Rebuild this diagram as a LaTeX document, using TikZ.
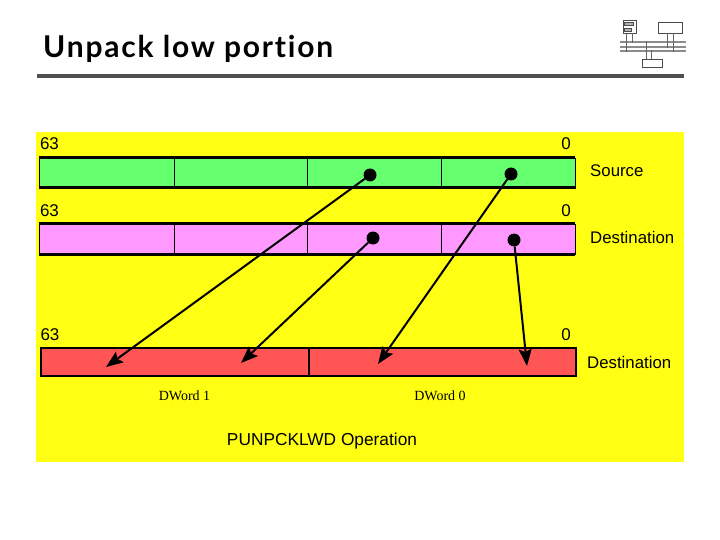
\documentclass[tikz,border=0pt]{standalone}
\usepackage{fontspec}
\setmainfont{Liberation Sans}
\newfontfamily\titlefont[LetterSpace=6,Ligatures=NoCommon]{Lato Bold}
\newfontfamily\wordfont{Liberation Serif}
\usetikzlibrary{arrows.meta,positioning}
\definecolor{paneyellow}{HTML}{FFFF14}
\definecolor{srcgreen}{HTML}{66FF6E}
\definecolor{dstpink}{HTML}{FF99FF}
\definecolor{resred}{HTML}{FF5555}
\definecolor{rulegray}{HTML}{505050}
\begin{document}
\begin{tikzpicture}[x=1pt,y=-1pt,
  cell/.style={minimum height=30pt,outer sep=0pt,inner sep=0pt,draw,line width=.9pt,rectangle,node distance=0pt},
  rowrule/.style={line width=3pt},
  rescell/.style={minimum height=28pt,outer sep=0pt,inner sep=0pt,draw,line width=1.6pt,fill=resred,rectangle,node distance=0pt},
  dot/.style={circle,fill=black,minimum size=13pt,inner sep=0pt,outer sep=0pt},
  move/.style={-{Stealth[length=17pt,width=13pt,inset=3pt]},line width=2pt},
  num/.style={font=\fontsize{17}{17}\selectfont,inner sep=0pt},
  tag/.style={font=\fontsize{16.8}{17}\selectfont,inner sep=0pt,anchor=west},
  word/.style={font=\wordfont\fontsize{14}{14}\selectfont,inner sep=0pt},
  mini/.style={draw=black!70,line width=.5pt,inner sep=0pt,outer sep=0pt,fill=white},
  bus/.style={mini,fill=black!45,draw=black!45,minimum width=65pt,minimum height=1.5pt}]
\useasboundingbox (0,0) rectangle (720,540);

% title
\node[font=\titlefont\fontsize{30}{30}\selectfont,anchor=base west,inner sep=0pt] (title) at (43,58) {Unpack low portion};
\coordinate (ruleL) at (37,76);
\coordinate (ruleR) at (684,76);
\draw[rulegray,line width=3.5pt] (ruleL) -- (ruleR);

% small system picture
\node[mini,minimum width=13pt,minimum height=13pt] (cpu) at (629.5,27) {};
\node[mini,fill=black!30,minimum width=9pt,minimum height=3pt] (cpuA) at (629,24) {};
\node[mini,fill=black!30,minimum width=7pt,minimum height=3pt] (cpuB) at (627.5,30) {};
\node[mini,minimum width=24pt,minimum height=11pt] (mem) at (670,27.5) {};
\node[bus] (busA) at (652.5,42) {};
\node[bus] (busB) at (652.5,47) {};
\node[bus] (busC) at (652.5,51) {};
\node[mini,minimum width=20pt,minimum height=8pt] (io) at (652,63) {};
\draw[black!60,line width=.6pt] ([xshift=-3pt]cpu.south) -- ([xshift=-3pt]cpu.south |- busC.south)
  ([xshift=3pt]cpu.south) -- ([xshift=3pt]cpu.south |- busA.south)
  ([xshift=-3pt]mem.south) -- ([xshift=-3pt]mem.south |- busB.south)
  ([xshift=3pt]mem.south) -- ([xshift=3pt]mem.south |- busC.south)
  ([xshift=-6pt]io.north) -- ([xshift=-6pt]io.north |- busA.north)
  ([xshift=-1pt]io.north) -- ([xshift=-1pt]io.north |- busC.north);

% panel
\fill[paneyellow] (36,132) rectangle (684,462);

\node[num] (srcHi) at (49.5,144) {63};
\node[num] (srcLo) at (566,144) {0};
\node[cell,fill=srcgreen,minimum width=135pt,anchor=west] (S3) at (39,173) {};
\node[cell,fill=srcgreen,minimum width=133pt,right = of S3] (S2) {};
\node[cell,fill=srcgreen,minimum width=134pt,right = of S2] (S1) {};
\node[cell,fill=srcgreen,minimum width=134pt,right = of S1] (S0) {};
\draw[rowrule] (S3.north west) -- (S0.north east) (S3.south west) -- (S0.south east);
\node[tag] (srcTag) at (590,171) {Source};

\node[num] (dstHi) at (49.5,211) {63};
\node[num] (dstLo) at (566,211) {0};
\node[cell,fill=dstpink,minimum width=135pt,anchor=west] (D3) at (39,239) {};
\node[cell,fill=dstpink,minimum width=133pt,right = of D3] (D2) {};
\node[cell,fill=dstpink,minimum width=134pt,right = of D2] (D1) {};
\node[cell,fill=dstpink,minimum width=134pt,right = of D1] (D0) {};
\draw[rowrule] (D3.north west) -- (D0.north east) (D3.south west) -- (D0.south east);
\node[tag] (dstTag) at (590,237) {Destination};

\node[num] (resHi) at (50,335) {63};
\node[num] (resLo) at (566,335) {0};
\node[rescell,minimum width=268pt,anchor=west] (R1) at (41,362) {};
\node[rescell,minimum width=267pt,right = of R1] (R0) {};
\node[tag] (resTag) at (587,362) {Destination};

\node[word] (wordHi) at (184.5,396) {DWord 1};
\node[word] (wordLo) at (440,396) {DWord 0};
\node[font=\fontsize{17.3}{18}\selectfont,inner sep=0pt] (opName) at (322,441) {PUNPCKLWD Operation};

% moves
\node[dot] (s1) at (370,175) {};
\node[dot] (s0) at (511,174) {};
\node[dot] (d1) at (373,238) {};
\node[dot] (d0) at (514,240) {};
\coordinate (r3) at (106,367);
\coordinate (r2) at (241,363);
\coordinate (r1) at (378,364);
\coordinate (r0) at (527,366);
\draw[move] (s1) -- (r3);
\draw[move] (d1) -- (r2);
\draw[move] (s0) -- (r1);
\draw[move] (d0) -- (r0);
\end{tikzpicture}
\end{document}
